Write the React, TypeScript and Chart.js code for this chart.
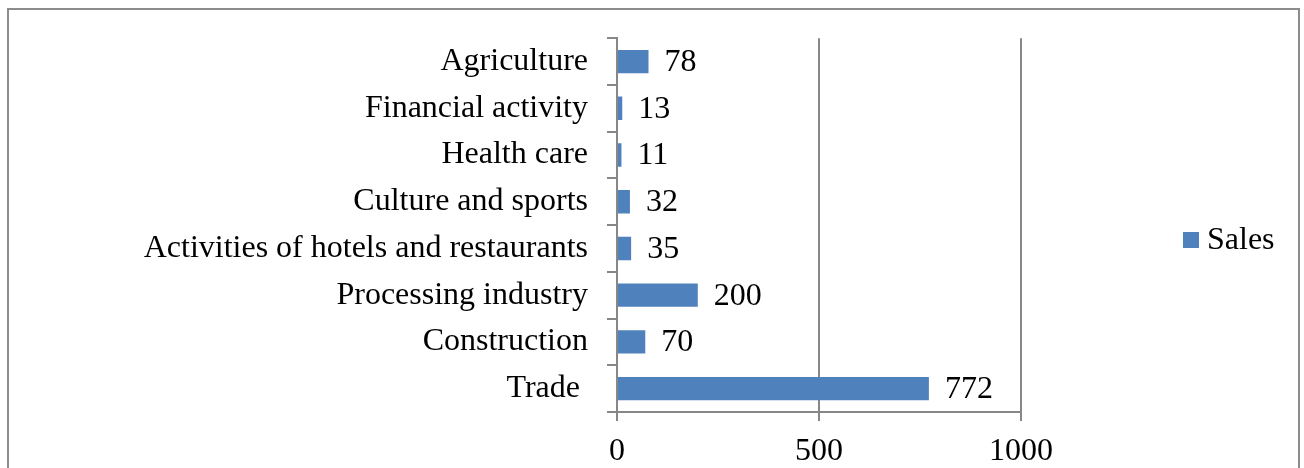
import { useEffect, useRef } from 'react';
import { Chart, registerables } from 'chart.js';

Chart.register(...registerables);

const categories = [
  'Agriculture',
  'Financial activity',
  'Health care',
  'Culture and sports',
  'Activities of hotels and restaurants',
  'Processing industry',
  'Construction',
  'Trade ',
];
const salesValues = [78, 13, 11, 32, 35, 200, 70, 772];
const seriesName = 'Sales';
const xMin = 0;
const xMax = 1000;
const xStep = 500;

const FONT_FAMILY = '"Liberation Serif", "Times New Roman", serif';
const FONT_SIZE = 32;
const GRID = '#878787';
const BAR = '#4F81BD';

const valueLabels = {
  id: 'valueLabels',
  afterDatasetsDraw(chart: any) {
    const ctx = chart.ctx;
    const meta = chart.getDatasetMeta(0);
    ctx.save();
    ctx.font = `${FONT_SIZE}px ${FONT_FAMILY}`;
    ctx.fillStyle = '#000';
    ctx.textAlign = 'left';
    ctx.textBaseline = 'middle';
    meta.data.forEach((bar: any, i: number) => {
      ctx.fillText(String(chart.data.datasets[0].data[i]), bar.x + 16, bar.y + 1);
    });
    ctx.restore();
  },
};

const sideLegend = {
  id: 'sideLegend',
  afterDraw(chart: any) {
    const ctx = chart.ctx;
    const ds = chart.data.datasets[0];
    const x = chart.chartArea.right + 162;
    const y = chart.height / 2 + 6;
    ctx.save();
    ctx.fillStyle = ds.backgroundColor;
    ctx.fillRect(x, y - 8, 16, 16);
    ctx.font = `${FONT_SIZE}px ${FONT_FAMILY}`;
    ctx.fillStyle = '#000';
    ctx.textAlign = 'left';
    ctx.textBaseline = 'middle';
    ctx.fillText(ds.label, x + 24, y + 1);
    ctx.restore();
  },
};

export default function App() {
  const ref = useRef<HTMLCanvasElement | null>(null);

  useEffect(() => {
    if (!ref.current) return;
    const chart = new Chart(ref.current, {
      type: 'bar',
      data: {
        labels: categories,
        datasets: [
          {
            label: seriesName,
            data: salesValues,
            backgroundColor: BAR,
            borderWidth: 0,
            barPercentage: 0.5,
            categoryPercentage: 1,
          },
        ],
      },
      options: {
        indexAxis: 'y',
        responsive: false,
        animation: false,
        layout: { padding: { top: 33, right: 283, left: 0, bottom: 0 } },
        plugins: {
          legend: { display: false },
          tooltip: { enabled: false },
        },
        scales: {
          x: {
            type: 'linear',
            min: xMin,
            max: xMax,
            ticks: {
              stepSize: xStep,
              color: '#000',
              font: { family: FONT_FAMILY, size: FONT_SIZE },
              padding: 11,
              callback: (v: any) => String(v),
            },
            grid: {
              color: GRID,
              lineWidth: 2,
              tickLength: 9,
              drawTicks: true,
            },
            border: { display: true, color: GRID, width: 2 },
            afterFit(scale: any) {
              scale.height = 56;
            },
          },
          y: {
            type: 'category',
            offset: true,
            ticks: {
              color: '#000',
              font: { family: FONT_FAMILY, size: FONT_SIZE },
              padding: 19,
            },
            grid: {
              offset: true,
              drawOnChartArea: false,
              drawTicks: true,
              tickLength: 10,
              color: GRID,
              lineWidth: 2,
            },
            border: { display: true, color: GRID, width: 2 },
            afterFit(scale: any) {
              scale.width = 617;
            },
          },
        },
      },
      plugins: [valueLabels, sideLegend],
    });
    return () => chart.destroy();
  }, []);

  return (
    <>
      <canvas
        ref={ref}
        width={1304}
        height={468}
        style={{ position: 'fixed', left: 0, top: 0, display: 'block' }}
      />
      <div
        style={{
          position: 'fixed',
          left: 7,
          top: 8,
          width: 1293,
          height: 520,
          border: '2px solid #8c8c8c',
          boxSizing: 'border-box',
          pointerEvents: 'none',
        }}
      />
    </>
  );
}
